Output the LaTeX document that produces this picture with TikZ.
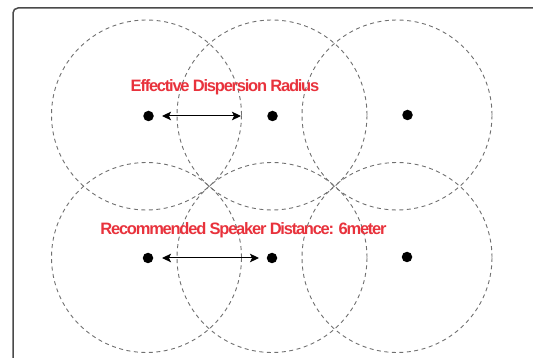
\documentclass[tikz,border=0pt]{standalone}
\usepackage{fontspec}
\setmainfont{Liberation Sans}
\newfontfamily\labelfont[LetterSpace=-7.5]{Liberation Sans Bold}
\usetikzlibrary{arrows.meta}
\definecolor{labelred}{HTML}{E8323C}
\definecolor{framegray}{HTML}{4A4A4A}
\definecolor{dashgray}{HTML}{707070}
\tikzset{
  zone/.style={draw=dashgray, line width=0.9pt, dash pattern=on 4pt off 3.5pt, circle, minimum size=190pt, inner sep=0pt},
  spk/.style={fill=black, circle, minimum size=10.5pt, inner sep=0pt},
  lbl/.style={text=labelred, font=\labelfont\fontsize{16.5}{16.5}\selectfont, inner sep=0pt},
  dim/.style={line width=1pt, {Stealth[length=9pt,width=8.5pt,inset=2pt]}-{Stealth[length=9pt,width=8.5pt,inset=2pt]}}
}
\begin{document}
\begin{tikzpicture}[x=1pt,y=-1pt]
\useasboundingbox (0,0) rectangle (533,358);
\draw[framegray, line width=1.5pt, rounded corners=5pt] (13,8) rectangle (560,380);
% coverage circles
\node[zone] (z1) at (146.5,115) {};
\node[zone] (z2) at (272,115) {};
\node[zone] (z3) at (397,115) {};
\node[zone] (z4) at (146.5,257.5) {};
\node[zone] (z5) at (272,257.5) {};
\node[zone] (z6) at (397,257.5) {};
% speakers
\node[spk] (s1) at (148.5,116) {};
\node[spk] (s2) at (272.5,116) {};
\node[spk] (s3) at (407.5,115) {};
\node[spk] (s4) at (148,258) {};
\node[spk] (s5) at (272,258) {};
\node[spk] (s6) at (407,257) {};
% dimension endpoints
\coordinate (a1) at (162,116);
\coordinate (a2) at (241,116);
\coordinate (b1) at (162,258);
\coordinate (b2) at (259,258);
\draw[dim] (a1) -- (a2);
\draw[dim] (b1) -- (b2);
% labels
\node[lbl] (l1) at (225,87) {Effective Dispersion Radius};
\node[lbl] (l2) at (243.5,230) {Recommended Speaker Distance: 6meter};
\end{tikzpicture}
\end{document}
